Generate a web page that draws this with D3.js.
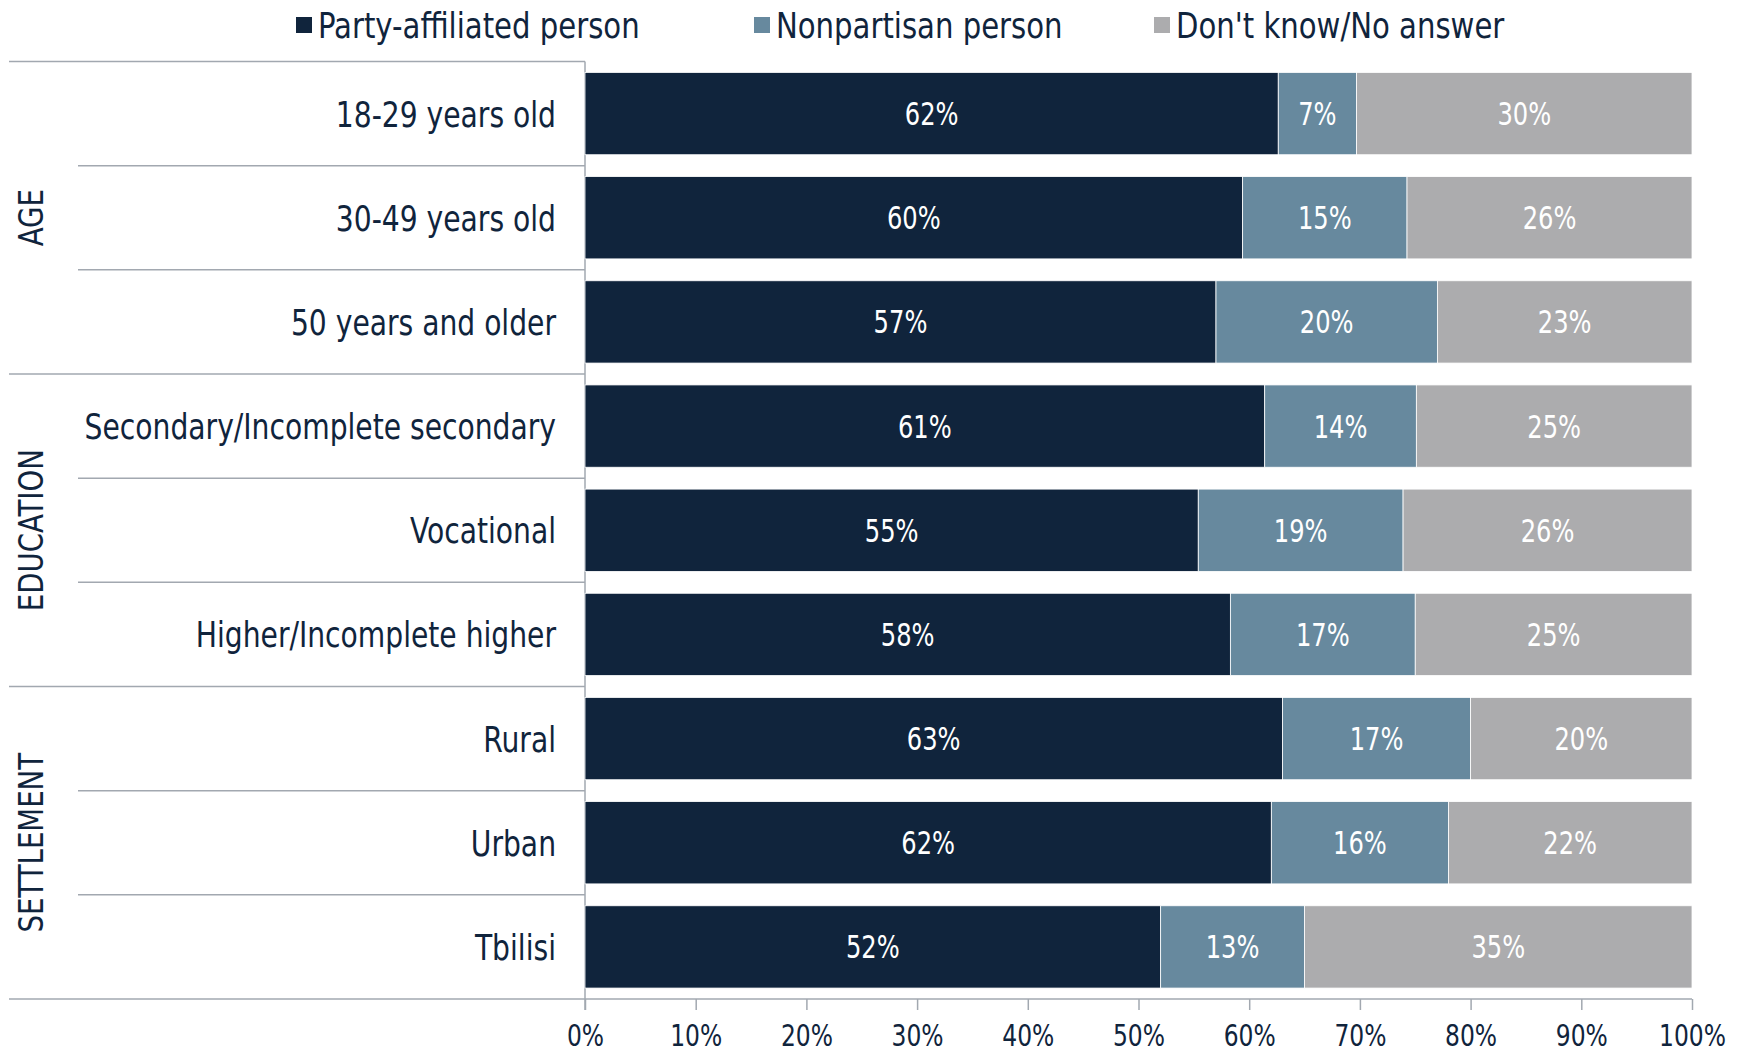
<!DOCTYPE html>
<html>
<head>
<meta charset="utf-8">
<script src="https://cdn.jsdelivr.net/npm/d3@7"></script>
<style>
  body { margin: 0; background: #fff; }
  text { font-family: "Liberation Sans Narrow", "DejaVu Sans Condensed", sans-serif; fill: #10243c; }
</style>
</head>
<body>
<div id="chart"></div>
<script>
// données
const categories = ["18-29 years old", "30-49 years old", "50 years and older",
  "Secondary/Incomplete secondary", "Vocational", "Higher/Incomplete higher",
  "Rural", "Urban", "Tbilisi"];
const groups = ["AGE", "EDUCATION", "SETTLEMENT"];
const groupOf = [0, 0, 0, 1, 1, 1, 2, 2, 2];
const series = ["Party-affiliated person", "Nonpartisan person", "Don't know/No answer"];
const partyValues = [62, 60, 57, 61.4, 55.4, 58.3, 63, 62, 52];
const nonpartisanValues = [7, 15, 20, 13.7, 18.5, 16.7, 17, 16, 13];
const dkValues = [30, 26, 23, 24.9, 26.1, 25.0, 20, 22, 35];
const ticks = [0, 0.1, 0.2, 0.3, 0.4, 0.5, 0.6, 0.7, 0.8, 0.9, 1];
const colors = ["#10243c", "#67899e", "#acacae"];

const W = 1746, H = 1054;
const svg = d3.select("#chart").append("svg")
  .attr("width", W).attr("height", H);

const x = d3.scaleLinear().domain([0, 1]).range([585, 1692]);
const y = d3.scaleBand().domain(categories).range([61.5, 999]).paddingInner(0.21).paddingOuter(0.105);
const step = y.step();
const haut = 61.5;

// la police est plus étroite dans l'original : on compresse en x
const serre = 0.87;

// table pour la pile
const rows = categories.map((c, i) => ({cat: c, s0: partyValues[i], s1: nonpartisanValues[i], s2: dkValues[i]}));
const stack = d3.stack().keys(["s0", "s1", "s2"]).offset(d3.stackOffsetExpand);
const layers = stack(rows);

const lineColor = "#a2a8b0";

// lignes de séparation à gauche
const sep = svg.append("g");
for (let i = 0; i <= categories.length; i++) {
  const yy = haut + i * step;
  const isGroupEdge = (i === 0 || i === categories.length || groupOf[i] !== groupOf[i - 1]);
  sep.append("line")
    .attr("x1", isGroupEdge ? 9 : 78).attr("x2", i === categories.length ? 1692 : 585)
    .attr("y1", yy).attr("y2", yy)
    .attr("stroke", lineColor).attr("stroke-width", 1.5);
}
// axe vertical
sep.append("line")
  .attr("x1", 585).attr("x2", 585).attr("y1", haut).attr("y2", 1010)
  .attr("stroke", lineColor).attr("stroke-width", 1.5);

// barres
const barG = svg.append("g");
layers.forEach((layer, k) => {
  barG.selectAll(null).data(layer).enter().append("rect")
    .attr("x", d => x(d[0]))
    .attr("width", d => x(d[1]) - x(d[0]))
    .attr("y", d => y(d.data.cat))
    .attr("height", y.bandwidth())
    .attr("fill", colors[k])
    .attr("stroke", "#fff").attr("stroke-width", 0.8);

  barG.selectAll(null).data(layer).enter().append("text")
    .attr("transform", d => "translate(" + (x(d[0]) + x(d[1])) / 2 + "," + (y(d.data.cat) + y.bandwidth() / 2) + ") scale(0.84,1)")
    .attr("dy", "0.36em")
    .attr("text-anchor", "middle")
    .style("fill", "#fff")
    .style("font-size", "32px")
    .text(d => Math.round(d.data["s" + k]) + "%");
});

// étiquettes des catégories
svg.append("g").selectAll("text").data(categories).enter().append("text")
  .attr("transform", d => "translate(556," + (y(d) + y.bandwidth() / 2) + ") scale(" + serre + ",1)")
  .attr("dy", "0.36em")
  .attr("text-anchor", "end")
  .style("font-size", "36px")
  .text(d => d);

// étiquettes des groupes (verticales)
groups.forEach((g, gi) => {
  const idx = groupOf.map((v, i) => v === gi ? i : -1).filter(i => i >= 0);
  const cy = haut + (idx[0] + idx[idx.length - 1] + 1) / 2 * step;
  svg.append("text")
    .attr("transform", "translate(31," + cy + ") rotate(-90) scale(0.93,1)")
    .attr("dy", "0.36em")
    .attr("text-anchor", "middle")
    .style("font-size", "33px")
    .text(g);
});

// axe du bas
const xAxis = svg.append("g")
  .attr("transform", "translate(0,999)")
  .call(d3.axisBottom(x).tickValues(ticks).tickFormat(d3.format(".0%")).tickSize(11).tickPadding(14));
xAxis.select(".domain").remove();
xAxis.selectAll(".tick line").attr("stroke", lineColor).attr("stroke-width", 1.5);
xAxis.selectAll(".tick text")
  .attr("transform", "scale(0.84,1)")
  .style("font-size", "31px").style("fill", "#10243c");

// légende
const legendX = [296, 754, 1154];
const leg = svg.append("g");
series.forEach((s, i) => {
  leg.append("rect")
    .attr("x", legendX[i]).attr("y", 17).attr("width", 16).attr("height", 16)
    .attr("fill", colors[i]);
  leg.append("text")
    .attr("transform", "translate(" + (legendX[i] + 22) + ",25) scale(0.9,1)")
    .attr("dy", "0.36em")
    .style("font-size", "36px")
    .text(s);
});
</script>
</body>
</html>
